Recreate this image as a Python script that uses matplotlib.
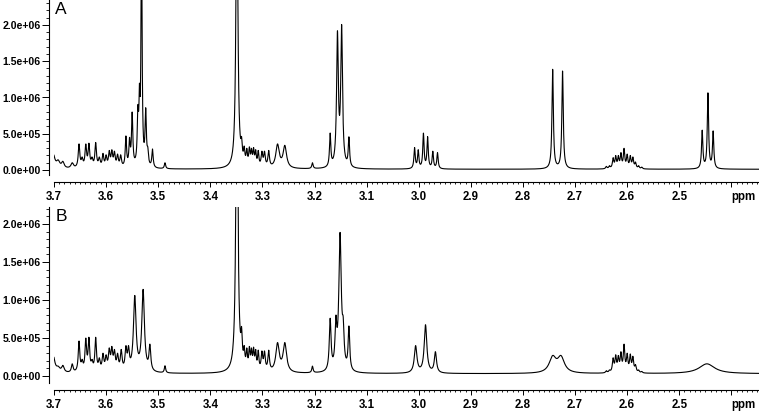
import numpy as np
import matplotlib
matplotlib.use("Agg")
import matplotlib.pyplot as plt
from matplotlib.ticker import MultipleLocator, FixedLocator

# ---- Peak lists (ppm, apparent height, half-width) ----
a_ppm = [3.702, 3.692, 3.683, 3.665, 3.652, 3.646, 3.639, 3.633, 3.627, 3.620,
         3.613, 3.606, 3.600, 3.594, 3.589, 3.584, 3.578, 3.572, 3.562, 3.555,
         3.550, 3.539, 3.536, 3.532, 3.524, 3.520, 3.511, 3.487, 3.379, 3.349,
         3.340, 3.335, 3.330, 3.325, 3.321, 3.317, 3.313, 3.308, 3.301, 3.296,
         3.288, 3.271, 3.257, 3.204, 3.170, 3.156, 3.148, 3.134,
         3.008, 3.001, 2.991, 2.983, 2.973, 2.964, 2.743, 2.724,
         2.640, 2.634, 2.627, 2.622, 2.617, 2.612, 2.606, 2.600, 2.594, 2.589,
         2.584, 2.578, 2.572, 2.456, 2.445, 2.435]
a_height = [2.4e5, 1.4e5, 1.2e5, 1.0e5, 3.6e5, 1.8e5, 3.6e5, 3.7e5, 1.8e5, 3.8e5,
            1.8e5, 2.3e5, 2.1e5, 2.7e5, 2.8e5, 2.6e5, 2.2e5, 2.1e5, 4.7e5, 4.5e5,
            8.0e5, 9.0e5, 1.2e6, 3.5e6, 8.6e5, 3.2e5, 2.9e5, 1.0e5, 3.0e4, 4.5e6,
            4.6e5, 3.3e5, 3.0e5, 3.2e5, 3.0e5, 3.1e5, 2.8e5, 2.7e5, 2.6e5, 2.6e5,
            2.7e5, 3.6e5, 3.4e5, 1.0e5, 5.1e5, 1.92e6, 2.01e6, 4.6e5,
            3.1e5, 2.8e5, 5.1e5, 4.6e5, 2.6e5, 2.4e5, 1.39e6, 1.37e6,
            5.0e4, 6.0e4, 1.7e5, 2.0e5, 2.0e5, 2.4e5, 3.0e5, 2.2e5, 2.0e5, 1.8e5,
            1.1e5, 6.0e4, 4.0e4, 5.5e5, 1.07e6, 5.4e5]
a_width = [0.004, 0.004, 0.003, 0.003, 0.0018, 0.002, 0.0018, 0.0018, 0.002, 0.0018,
           0.002, 0.0018, 0.0018, 0.0018, 0.0018, 0.0018, 0.0018, 0.0018, 0.0015, 0.0015,
           0.0015, 0.0015, 0.0012, 0.0012, 0.0015, 0.0015, 0.0015, 0.0015, 0.002, 0.002,
           0.0015, 0.0015, 0.0015, 0.0015, 0.0015, 0.0015, 0.0015, 0.0015, 0.0018, 0.0018,
           0.0018, 0.004, 0.004, 0.0015, 0.0015, 0.002, 0.002, 0.0015,
           0.0015, 0.0015, 0.0015, 0.0015, 0.0015, 0.0015, 0.0016, 0.0016,
           0.0016, 0.0016, 0.0016, 0.0016, 0.0016, 0.0016, 0.0016, 0.0016, 0.0016, 0.0016,
           0.0016, 0.0016, 0.0016, 0.0015, 0.0015, 0.0015]
a_base = 1.0e4

b_ppm = [3.702, 3.692, 3.683, 3.665, 3.652, 3.646, 3.639, 3.633, 3.627, 3.620,
         3.613, 3.606, 3.600, 3.594, 3.589, 3.584, 3.578, 3.571, 3.562, 3.557,
         3.545, 3.529, 3.516, 3.487, 3.379, 3.349,
         3.340, 3.335, 3.330, 3.325, 3.321, 3.317, 3.313, 3.308, 3.301, 3.296,
         3.288, 3.271, 3.257, 3.204, 3.170, 3.159, 3.151, 3.145, 3.134,
         3.006, 2.987, 2.968, 2.743, 2.727,
         2.640, 2.634, 2.627, 2.622, 2.617, 2.612, 2.606, 2.600, 2.594, 2.589,
         2.584, 2.578, 2.572, 2.447]
b_height = [2.9e5, 1.3e5, 1.4e5, 1.6e5, 4.6e5, 2.2e5, 5.0e5, 5.1e5, 2.2e5, 5.1e5,
            2.4e5, 3.0e5, 2.8e5, 3.7e5, 3.9e5, 3.5e5, 3.0e5, 3.5e5, 4.0e5, 4.0e5,
            1.06e6, 1.14e6, 4.2e5, 1.35e5, 4.5e4, 4.5e6,
            6.5e5, 4.0e5, 3.7e5, 3.9e5, 3.7e5, 3.8e5, 3.5e5, 3.4e5, 3.3e5, 3.3e5,
            3.4e5, 4.4e5, 4.4e5, 1.3e5, 7.6e5, 8.0e5, 1.89e6, 7.8e5, 6.6e5,
            4.0e5, 6.75e5, 3.2e5, 2.7e5, 2.7e5,
            7.0e4, 8.0e4, 2.4e5, 2.8e5, 2.7e5, 3.2e5, 4.2e5, 3.0e5, 2.9e5, 2.6e5,
            1.5e5, 8.0e4, 6.0e4, 1.6e5]
b_width = [0.004, 0.004, 0.003, 0.002, 0.0018, 0.002, 0.0018, 0.0018, 0.002, 0.0018,
           0.002, 0.002, 0.002, 0.002, 0.002, 0.002, 0.002, 0.002, 0.002, 0.002,
           0.003, 0.003, 0.002, 0.0015, 0.002, 0.0022,
           0.0015, 0.0015, 0.0015, 0.0015, 0.0015, 0.0015, 0.0015, 0.0015, 0.0018, 0.0018,
           0.0018, 0.004, 0.004, 0.0015, 0.002, 0.002, 0.0028, 0.002, 0.0018,
           0.003, 0.003, 0.0025, 0.008, 0.008,
           0.0017, 0.0017, 0.0017, 0.0017, 0.0017, 0.0017, 0.0017, 0.0017, 0.0017, 0.0017,
           0.0017, 0.0017, 0.0017, 0.018]
b_base = 3.0e4

panel_labels = ["A", "B"]
x_ticks = [3.7, 3.6, 3.5, 3.4, 3.3, 3.2, 3.1, 3.0, 2.9, 2.8, 2.7, 2.6, 2.5, 2.4]
x_tick_labels = ["3.7", "3.6", "3.5", "3.4", "3.3", "3.2", "3.1", "3.0", "2.9",
                 "2.8", "2.7", "2.6", "2.5", "ppm"]
y_ticks = [0, 5e5, 1e6, 1.5e6, 2e6]
y_tick_labels = ["0.0e+00", "5.0e+05", "1.0e+06", "1.5e+06", "2.0e+06"]


def spectrum(grid, pos, hts, wid, base):
    pos = np.asarray(pos); hts = np.asarray(hts); wid = np.asarray(wid)
    def lor(xv):
        return wid**2 / (wid**2 + (xv[:, None] - pos[None, :])**2)
    M = lor(pos)
    amp = np.maximum(hts - base, 1.0)
    target = hts - base
    for _ in range(200):
        cur = M @ amp
        amp = amp * np.clip(target / cur, 0.5, 2.0)
    return base + lor(grid) @ amp


x = np.linspace(3.70, 2.347, 6000)
ya = spectrum(x, a_ppm, a_height, a_width, a_base)
yb = spectrum(x, b_ppm, b_height, b_width, b_base)

plt.rcParams['font.family'] = ['Liberation Sans', 'DejaVu Sans']
W, H = 759, 411
fig = plt.figure(figsize=(W / 100, H / 100), dpi=100)

boxes = [(54, 0, 759, 175, 170, 145), (54, 207, 759, 383, 376, 152)]
for i, (yy, (l, t, r, b, zero_px, px2e6)) in enumerate(zip([ya, yb], boxes)):
    ax = fig.add_axes([l / W, 1 - b / H, (r - l) / W, (b - t) / H])
    ax.plot(x, yy, color='black', lw=0.8)
    ax.set_xlim(3.70, 2.347)
    ytop = (zero_px - t) / px2e6 * 2e6
    ybot = -(b - zero_px) / px2e6 * 2e6
    ax.set_ylim(ybot, ytop)
    for s in ['top', 'right']:
        ax.spines[s].set_visible(False)
    ax.spines['left'].set_position(('outward', 3.6))
    ax.spines['bottom'].set_position(('outward', 5.0))
    ax.spines['left'].set_linewidth(0.8)
    ax.spines['bottom'].set_linewidth(0.8)
    ax.xaxis.set_major_locator(FixedLocator(x_ticks))
    ax.set_xticklabels(x_tick_labels)
    ax.xaxis.set_minor_locator(MultipleLocator(0.01))
    ax.yaxis.set_major_locator(FixedLocator(y_ticks))
    ax.set_yticklabels(y_tick_labels)
    ax.yaxis.set_minor_locator(MultipleLocator(1e5))
    ax.tick_params(axis='x', which='major', length=3.5, width=0.7, pad=3.0,
                   labelsize=8.3)
    ax.tick_params(axis='x', which='minor', length=1.6, width=0.6)
    ax.tick_params(axis='y', which='major', length=5, width=0.7, pad=0.8,
                   labelsize=7.6)
    ax.tick_params(axis='y', which='minor', length=2.2, width=0.6)
    for lab in ax.get_xticklabels() + ax.get_yticklabels():
        lab.set_fontweight('bold')
    ax.get_xticklabels()[-1].set_horizontalalignment('left')
    ax.text(0.002, 0.99, panel_labels[i], transform=ax.transAxes,
            ha='left', va='top', fontsize=12.5)
    ax.patch.set_visible(False)

fig.savefig("out.png", dpi=100)
